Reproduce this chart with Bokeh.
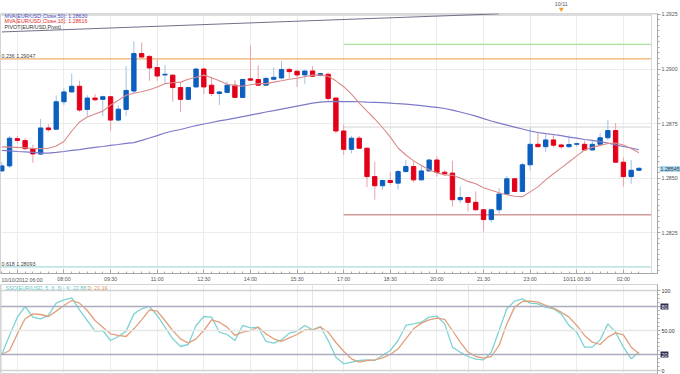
from bokeh.plotting import figure
from bokeh.models import (Range1d, FixedTicker, SingleIntervalTicker, NumeralTickFormatter,
                          Span, Label, ColumnDataSource, BoxAnnotation, Grid)
from bokeh.layouts import column
from bokeh.embed import file_html
from bokeh.resources import INLINE

# ---------------- data ----------------
candle_idx = list(range(83))  # 15-minute candles from 10/10/2012 06:00
x_tick_idx = [2, 8, 14, 20, 26, 32, 38, 44, 50, 56, 62, 68, 74, 80]
x_tick_labels = ["", "08:00", "09:30", "11:00", "12:30", "14:00", "15:30", "17:00",
                 "18:30", "20:00", "21:30", "23:00", "10/11 00:30", "02:00"]
start_label = "10/10/2012 06:00"
day_marker_idx = 72
day_marker_label = "10/11"

open_ = [1.28533, 1.28556, 1.28681, 1.28672, 1.28634, 1.28610, 1.28730, 1.28724, 1.28850, 1.28895,
         1.28921, 1.28815, 1.28867, 1.28861, 1.28873, 1.28766, 1.28815, 1.28899, 1.29071, 1.29058,
         1.29007, 1.28973, 1.28972, 1.28915, 1.28861, 1.28918, 1.29000, 1.28926, 1.28888, 1.28893,
         1.28926, 1.28870, 1.28955, 1.28952, 1.28926, 1.28953, 1.28959, 1.28998, 1.28990, 1.28973,
         1.28991, 1.28970, 1.28976, 1.28867, 1.28716, 1.28632, 1.28683, 1.28637, 1.28507, 1.28465,
         1.28489, 1.28477, 1.28530, 1.28553, 1.28492, 1.28533, 1.28583, 1.28527, 1.28523, 1.28401,
         1.28411, 1.28389, 1.28355, 1.28310, 1.28355, 1.28427, 1.28497, 1.28439, 1.28561, 1.28655,
         1.28644, 1.28675, 1.28652, 1.28644, 1.28655, 1.28655, 1.28629, 1.28655, 1.28685, 1.28718,
         1.28573, 1.28507, 1.28536]
high = [1.28574, 1.28693, 1.28693, 1.28684, 1.28652, 1.28771, 1.28746, 1.28880, 1.28912, 1.28979,
        1.28946, 1.28880, 1.28885, 1.28878, 1.28878, 1.28835, 1.29013, 1.29127, 1.29122, 1.29063,
        1.29043, 1.29019, 1.28976, 1.28941, 1.28919, 1.29006, 1.29006, 1.28964, 1.28901, 1.28944,
        1.28949, 1.28956, 1.29109, 1.29017, 1.28964, 1.29007, 1.29037, 1.29007, 1.28994, 1.28994,
        1.29013, 1.28983, 1.28984, 1.28871, 1.28746, 1.28694, 1.28693, 1.28641, 1.28576, 1.28492,
        1.28529, 1.28538, 1.28583, 1.28576, 1.28561, 1.28588, 1.28599, 1.28538, 1.28580, 1.28462,
        1.28415, 1.28439, 1.28357, 1.28357, 1.28454, 1.28510, 1.28499, 1.28570, 1.28732, 1.28711,
        1.28700, 1.28698, 1.28657, 1.28695, 1.28663, 1.28672, 1.28675, 1.28707, 1.28766, 1.28752,
        1.28595, 1.28583, 1.28550]
low = [1.28529, 1.28547, 1.28661, 1.28629, 1.28570, 1.28606, 1.28713, 1.28720, 1.28835, 1.28894,
       1.28804, 1.28784, 1.28852, 1.28784, 1.28717, 1.28758, 1.28784, 1.28888, 1.29052, 1.28946,
       1.28946, 1.28931, 1.28850, 1.28804, 1.28857, 1.28915, 1.28885, 1.28876, 1.28835, 1.28889,
       1.28867, 1.28867, 1.28945, 1.28922, 1.28922, 1.28950, 1.28952, 1.28957, 1.28918, 1.28931,
       1.28963, 1.28967, 1.28854, 1.28705, 1.28606, 1.28614, 1.28634, 1.28459, 1.28401, 1.28447,
       1.28469, 1.28447, 1.28526, 1.28480, 1.28488, 1.28531, 1.28507, 1.28510, 1.28370, 1.28385,
       1.28347, 1.28351, 1.28255, 1.28297, 1.28337, 1.28424, 1.28436, 1.28436, 1.28536, 1.28641,
       1.28620, 1.28641, 1.28634, 1.28638, 1.28643, 1.28627, 1.28627, 1.28652, 1.28673, 1.28571,
       1.28462, 1.28474, 1.28532]
close = [1.28556, 1.28683, 1.28673, 1.28635, 1.28611, 1.28730, 1.28722, 1.28850, 1.28895, 1.28921,
         1.28812, 1.28867, 1.28859, 1.28873, 1.28766, 1.28816, 1.28902, 1.29071, 1.29055, 1.29005,
         1.28968, 1.28976, 1.28915, 1.28861, 1.28915, 1.29000, 1.28918, 1.28888, 1.28895, 1.28926,
         1.28870, 1.28952, 1.28949, 1.28926, 1.28957, 1.28962, 1.28998, 1.28988, 1.28973, 1.28991,
         1.28967, 1.28979, 1.28865, 1.28716, 1.28632, 1.28683, 1.28637, 1.28507, 1.28465, 1.28489,
         1.28480, 1.28530, 1.28553, 1.28492, 1.28533, 1.28583, 1.28526, 1.28520, 1.28401, 1.28411,
         1.28389, 1.28355, 1.28310, 1.28355, 1.28427, 1.28497, 1.28439, 1.28561, 1.28655, 1.28644,
         1.28675, 1.28651, 1.28644, 1.28654, 1.28658, 1.28629, 1.28655, 1.28685, 1.28718, 1.28573,
         1.28507, 1.28536, 1.28545]

mva50 = [1.28627, 1.28625, 1.28622, 1.28620, 1.28618, 1.28615, 1.28615, 1.28618, 1.28622, 1.28627,
         1.28631, 1.28636, 1.28641, 1.28645, 1.28650, 1.28654, 1.28659, 1.28663, 1.28673, 1.28684,
         1.28695, 1.28707, 1.28716, 1.28723, 1.28732, 1.28741, 1.28748, 1.28755, 1.28762, 1.28768,
         1.28775, 1.28782, 1.28789, 1.28796, 1.28803, 1.28809, 1.28816, 1.28823, 1.28830, 1.28837,
         1.28844, 1.28848, 1.28851, 1.28852, 1.28851, 1.28851, 1.28850, 1.28848, 1.28847, 1.28846,
         1.28844, 1.28841, 1.28839, 1.28836, 1.28832, 1.28828, 1.28824, 1.28819, 1.28812, 1.28803,
         1.28794, 1.28784, 1.28773, 1.28762, 1.28752, 1.28743, 1.28734, 1.28725, 1.28716, 1.28709,
         1.28704, 1.28700, 1.28695, 1.28688, 1.28683, 1.28677, 1.28673, 1.28667, 1.28661, 1.28652,
         1.28645, 1.28638, 1.28630]
mva10 = [1.28643, 1.28642, 1.28641, 1.28639, 1.28636, 1.28635, 1.28637, 1.28647, 1.28668, 1.28716,
         1.28757, 1.28780, 1.28794, 1.28807, 1.28835, 1.28857, 1.28880, 1.28889, 1.28896, 1.28905,
         1.28918, 1.28933, 1.28937, 1.28940, 1.28953, 1.28962, 1.28972, 1.28960, 1.28946, 1.28930,
         1.28924, 1.28921, 1.28928, 1.28933, 1.28933, 1.28940, 1.28946, 1.28953, 1.28958, 1.28965,
         1.28972, 1.28972, 1.28967, 1.28946, 1.28919, 1.28885, 1.28844, 1.28807, 1.28771, 1.28732,
         1.28688, 1.28638, 1.28606, 1.28579, 1.28558, 1.28538, 1.28524, 1.28515, 1.28513, 1.28501,
         1.28485, 1.28474, 1.28456, 1.28444, 1.28433, 1.28424, 1.28417, 1.28415, 1.28437, 1.28460,
         1.28492, 1.28520, 1.28547, 1.28574, 1.28602, 1.28629, 1.28641, 1.28650, 1.28659, 1.28661,
         1.28652, 1.28636, 1.28616]

sso_k = [20, 44, 66.7, 80, 66.7, 64.6, 68.8, 84.2, 88.3, 90.8, 75.8, 62.5, 49.2, 50, 37.5, 42.5,
         49.2, 70.8, 77.1, 80, 68.8, 54.2, 39.6, 30, 32.5, 56.3, 67.5, 66.7, 47.9, 45, 37.5, 56.3,
         53.3, 54.2, 36.3, 34.2, 38.3, 46.7, 49.2, 56.3, 50.8, 55, 37.5, 16.7,
         8.3, 10.4, 12.5, 13.3, 12.5, 18.8, 25, 37.5, 56.3, 58.3, 60.4, 66.7, 67.9, 58.3, 29.2, 22.9,
         17.5, 14.2, 13.3, 22.9, 50, 77.1, 86.7, 89.6, 84.2, 83.3, 79.2, 77.1, 70.8, 56.3, 47.9, 29.2,
         29.2, 38.3, 58.3, 47.9, 29.2, 14.6, 22.88]
sso_d = [20, 25, 45.8, 64.6, 70.8, 70, 67.5, 74.2, 81.3, 87.5, 84.2, 75, 62.5, 54.2, 45.8, 43.8,
         42.5, 52.1, 63.3, 75.8, 74.2, 62.5, 50, 39.6, 34.2, 39.6, 50, 63.3, 60.4, 54.2, 43.8, 47.9,
         50, 54.2, 45.8, 39.6, 36.3, 40.8, 45, 50.8, 50.8, 54.2, 47.9, 35,
         24, 14.6, 10.4, 12.5, 13.3, 15.8, 20, 27.1, 39.6, 52.1, 59.2, 63.3, 65.4, 63.8, 50, 35.4,
         22.9, 17.5, 15.4, 17.5, 31.3, 58.3, 79.2, 86.3, 86.7, 85.4, 81.3, 77.9, 72.9, 66.7, 56.3, 43.8,
         35.4, 32.5, 41.7, 47.1, 44.6, 29.2, 21.19]
sso_levels = [0, 20, 50, 80, 100]
sso_boxed_levels = [80, 20]

fib_ratios = ["0.236", "0.618"]
fib_prices = [1.29047, 1.28093]
pivot_names = ["R1", "P", "S1"]
pivot_prices = [1.29113, 1.28734, 1.28332]
pivot_start_idx = 44
trend_idx = [0, 64]
trend_prices = [1.29170, 1.29253]

legend_main = ["MVA(EUR/USD,Close,50): 1.28630", "MVA(EUR/USD,Close,10): 1.28616", "PIVOT(EUR/USD,Pivot)"]
legend_sso_k = "SSO(EUR/USD, 5, 3, 3) - K: 22.88"
legend_sso_d = "D: 21.19"

# ---------------- layout helpers (pixel <-> data) ----------------
X0, DX = 1.3, 7.77          # px of candle 0, px per candle
P_REF, Y_REF, PPU = 1.2925, 14.0, 21900.0
FRAME_R = 657
PLOT_R = 651
MAIN_H = 284


def kx(px):
    return (px - X0) / DX


def xk(k):
    return X0 + DX * k


def py(px):
    return P_REF - (px - Y_REF) / PPU


def yp(price):
    return Y_REF + (P_REF - price) * PPU


def sv(px):  # stochastic value at page px
    return (370.0 - px) / 0.8


def vs(v):
    return 370.0 - 0.8 * v


FONT = "Liberation Sans"
FS = "5.3px"
AXC = "#a8a8a8"
LBC = "#555555"

xr = Range1d(kx(0), kx(FRAME_R))

p = figure(width=680, height=MAIN_H, x_range=xr, y_range=Range1d(py(274), py(13)),
           output_backend="svg", toolbar_location=None, y_axis_location="right",
           min_border_left=0, min_border_right=680 - FRAME_R, min_border_top=13, min_border_bottom=10,
           background_fill_color="white", border_fill_color="white",
           outline_line_color="#d4d4d4")

# axes
p.xaxis.ticker = FixedTicker(ticks=x_tick_idx, minor_ticks=candle_idx)
p.xaxis.major_label_overrides = dict(zip(x_tick_idx, x_tick_labels))
p.xaxis.major_tick_in = 4
p.xaxis.major_tick_out = 0
p.xaxis.minor_tick_in = 2
p.xaxis.minor_tick_out = 0
p.xaxis.major_label_standoff = 2
for ax in (p.xaxis, p.yaxis):
    ax.axis_line_color = AXC
    ax.major_tick_line_color = AXC
    ax.minor_tick_line_color = AXC
    ax.major_label_text_font = FONT
    ax.major_label_text_font_size = FS
    ax.major_label_text_color = LBC
p.yaxis.ticker = SingleIntervalTicker(interval=0.0025, num_minor_ticks=10)
p.yaxis.formatter = NumeralTickFormatter(format="0.0000")
p.yaxis.major_tick_in = 0
p.yaxis.major_tick_out = 3
p.yaxis.minor_tick_in = 0
p.yaxis.minor_tick_out = 2
p.yaxis.major_label_standoff = 1
p.xgrid.grid_line_color = "#ececec"
p.ygrid.grid_line_color = "#ececec"

# header band and plot right border
p.add_layout(BoxAnnotation(bottom=py(15.5), right=kx(PLOT_R), fill_color="#dcdcdc",
                           fill_alpha=1, line_color=None, level="underlay"))
p.add_layout(Span(location=kx(PLOT_R), dimension="height", line_color="#dadada", line_width=1))

# fib & pivot lines
p.segment(x0=[kx(0)] * len(fib_prices), y0=fib_prices, x1=[kx(PLOT_R)] * len(fib_prices),
          y1=fib_prices, line_color=["#f3ae6c", "#a9dcdc"], line_width=1.3)
p.segment(x0=[pivot_start_idx] * 3, y0=pivot_prices, x1=[kx(PLOT_R)] * 3, y1=pivot_prices,
          line_color=["#a6e09c", "#dedede", "#d09a9a"], line_width=1.3)
p.line(trend_idx, trend_prices, line_color="#70708c", line_width=1)

# candles
up = [c >= o for o, c in zip(open_, close)]
src = ColumnDataSource(dict(
    k=candle_idx, h=high, l=low,
    top=[max(o, c) for o, c in zip(open_, close)],
    bottom=[min(o, c) for o, c in zip(open_, close)],
    body=["#0c5fbf" if u else "#e2001a" for u in up],
    wick=["#a0c2e2" if u else "#e6a2a8" for u in up],
))
p.segment(x0="k", y0="l", x1="k", y1="h", line_color="wick", line_width=1, source=src)
p.vbar(x="k", width=0.56, top="top", bottom="bottom", fill_color="body", line_color="body",
       line_width=1, source=src)

# moving averages
p.line(candle_idx, mva50, line_color="#7d79c9", line_width=1.2)
p.line(candle_idx, mva10, line_color="#d98a8a", line_width=1.1)

# in-frame texts
leg_cols = ["#4b4bc4", "#e02828", "#333333"]
for t, c, ypx in zip(legend_main, leg_cols, [15.3, 21.0, 26.7]):
    p.add_layout(Label(x=kx(4), y=py(ypx), text=t, text_color=c, text_font=FONT,
                       text_font_size=FS, text_baseline="middle"))
p.add_layout(Label(x=kx(1), y=py(55.3), text=f"{fib_ratios[0]} {fib_prices[0]:.5f}",
                   text_color="#444444", text_font=FONT, text_font_size=FS, text_baseline="middle"))
p.add_layout(Label(x=kx(1), y=py(264), text=f"{fib_ratios[1]} {fib_prices[1]:.5f}",
                   text_color="#444444", text_font=FONT, text_font_size=FS, text_baseline="middle"))

# ---------------- stochastic panel ----------------
s = figure(width=680, height=374 - MAIN_H, x_range=xr, y_range=Range1d(sv(374), sv(MAIN_H)),
           output_backend="svg", toolbar_location=None, x_axis_location=None,
           y_axis_location="right", min_border_left=0, min_border_right=680 - FRAME_R,
           min_border_top=0, min_border_bottom=0, background_fill_color="white",
           border_fill_color="white", outline_line_color="#d4d4d4")
s.ygrid.visible = False
s.add_layout(Grid(dimension=0, ticker=FixedTicker(ticks=x_tick_idx), grid_line_color="#ececec"))
s.yaxis.ticker = FixedTicker(ticks=sso_levels, minor_ticks=list(range(0, 101, 5)))
s.yaxis.major_label_overrides = {0: "0", 20: "", 50: "50.00", 80: "", 100: "100"}
s.yaxis.axis_line_color = AXC
s.yaxis.major_tick_line_color = AXC
s.yaxis.minor_tick_line_color = AXC
s.yaxis.major_tick_in = 0
s.yaxis.major_tick_out = 3
s.yaxis.minor_tick_in = 0
s.yaxis.minor_tick_out = 2
s.yaxis.major_label_standoff = 1
s.yaxis.major_label_text_font = FONT
s.yaxis.major_label_text_font_size = FS
s.yaxis.major_label_text_color = "#333333"

for lv in sso_levels:
    col = "#ababbf" if lv in sso_boxed_levels else ("#e6e6e6" if lv == 50 else "#d2d2d2")
    s.add_layout(Span(location=lv, dimension="width", line_color=col, line_width=1.5))

s.line(candle_idx, sso_k, line_color="#7fd3d3", line_width=1.3)
s.line(candle_idx, sso_d, line_color="#e0a07c", line_width=1.3)

s.add_layout(Label(x=kx(5), y=sv(287), text=legend_sso_k, text_color="#5cc6c6", text_font=FONT,
                   text_font_size=FS, text_baseline="middle"))
s.add_layout(Label(x=kx(87), y=sv(287), text=legend_sso_d, text_color="#e08a50", text_font=FONT,
                   text_font_size=FS, text_baseline="middle"))

# ---------------- transparent overlay (pixel space) for texts outside the frames ----------------
ov = figure(width=680, height=374, x_range=Range1d(0, 680), y_range=Range1d(374, 0),
            output_backend="svg", toolbar_location=None, x_axis_location=None,
            y_axis_location=None, min_border=0, outline_line_color=None,
            background_fill_alpha=0, border_fill_alpha=0, margin=(-374, 0, 0, 0))
if "frame_align" in ov.properties():
    ov.frame_align = False
ov.grid.visible = False
ov.add_layout(Label(x=xk(day_marker_idx), y=3.5, text=day_marker_label, text_color=LBC,
                    text_font=FONT, text_font_size=FS, text_baseline="middle", text_align="center"))
ov.scatter(x=[xk(day_marker_idx)], y=[8.6], marker="inverted_triangle", size=5,
           fill_color="#f0a030", line_color=None)
ov.add_layout(Label(x=1, y=279.5, text=start_label, text_color=LBC, text_font=FONT,
                    text_font_size=FS, text_baseline="middle"))
ov.add_layout(Label(x=659, y=yp(close[-1]), text=f"{close[-1]:.5f}", text_color="#333333",
                    text_font=FONT, text_font_size=FS, text_baseline="middle",
                    background_fill_color="#aadcf4", padding=1))
for lv in sso_boxed_levels:
    ov.add_layout(Label(x=660, y=vs(lv), text=str(lv), text_color="#e8e8f0",
                        text_font=FONT, text_font_size=FS, text_baseline="middle",
                        background_fill_color="#2e2e55", padding=1))

layout = column(p, s, ov, spacing=0)
open("out.html", "w").write(file_html(layout, INLINE))
